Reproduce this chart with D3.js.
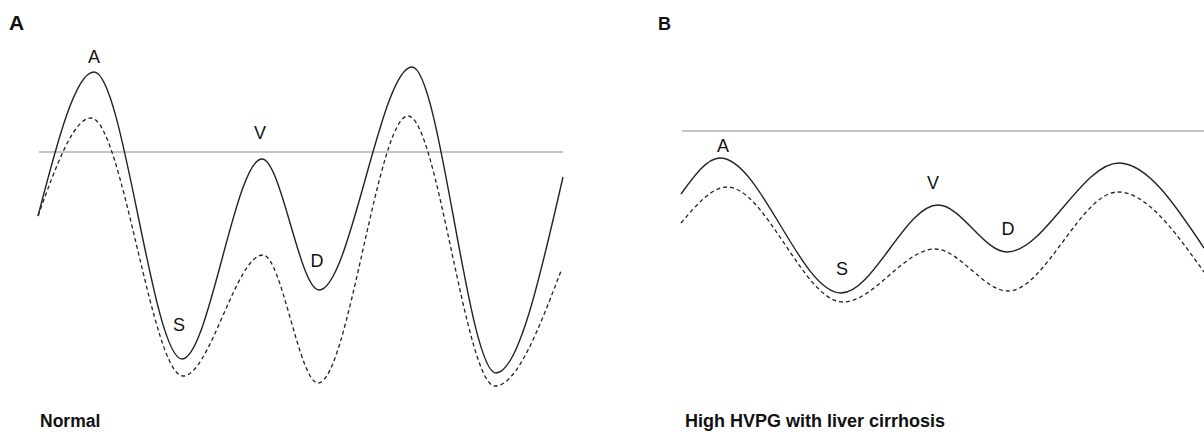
<!DOCTYPE html>
<html>
<head>
<meta charset="utf-8">
<script src="https://cdn.jsdelivr.net/npm/d3@7"></script>
<style>
  body { margin: 0; background: #fff; }
  text { font-family: "Liberation Sans", Arial, sans-serif; fill: #111; }
</style>
</head>
<body>
<div class="chart"></div>
<script>
// time in ms, pressure relative to the reference line (schematic units)
// each series: start, then the A / S / V / D / next A / next S turning points, then end
var normalSolid = [
  [0, -6.4], [112, 8.0], [288, -20.7], [448, -0.7], [562, -13.8],
  [748, 8.5], [916, -22.1], [1050, -2.5]
];
var normalDashed = [
  [0, -6.4], [106, 3.4], [290, -22.4], [450, -10.3], [560, -23.1],
  [740, 3.6], [914, -23.4], [1046, -11.9]
];
var cirrhosisSolid = [
  [0, -6.3], [78, -2.7], [320, -16.2], [514, -7.4], [652, -12.1],
  [876, -3.2], [1046, -11.7]
];
var cirrhosisDashed = [
  [0, -9.2], [92, -5.6], [324, -17.1], [508, -11.8], [654, -16.0],
  [874, -6.1], [1046, -14.1]
];

var waveNames = ["A", "S", "V", "D"];
var normalLabelAt = [[112, 9.5], [282, -17.3], [444, 1.9], [558, -10.9]];
var cirrhosisLabelAt = [[84, -1.5], [322, -13.8], [504, -5.2], [654, -9.8]];

var panelLetters = ["A", "B"];
var panelTitles = ["Normal", "High HVPG with liver cirrhosis"];

var fullWidth = 1204, fullHeight = 432;

var svg = d3.select(".chart")
  .append("svg")
  .attr("width", fullWidth)
  .attr("height", fullHeight);

var panels = [
  {
    solid: normalSolid, dashed: normalDashed, labels: normalLabelAt,
    x: d3.scaleLinear().domain([0, 1050]).range([38, 563]),
    y: d3.scaleLinear().domain([-25, 10]).range([402, 52]),
    lineEnd: 1050,
    letter: { x: 9, y: 30, size: 21 },
    title: { x: 40, y: 427, size: 17.5 }
  },
  {
    solid: cirrhosisSolid, dashed: cirrhosisDashed, labels: cirrhosisLabelAt,
    x: d3.scaleLinear().domain([0, 1046]).range([681, 1204]),
    y: d3.scaleLinear().domain([-25, 10]).range([381, 31]),
    lineEnd: 1046,
    letter: { x: 658, y: 30, size: 18 },
    title: { x: 685, y: 427, size: 18 }
  }
];

panels.forEach(function(p, i) {
  var g = svg.append("g");

  // reference line
  g.append("line")
    .attr("x1", p.x(0) + 1)
    .attr("x2", p.x(p.lineEnd))
    .attr("y1", p.y(0))
    .attr("y2", p.y(0))
    .attr("stroke", "#8a8a8a")
    .attr("stroke-width", 1.2);

  // monotone keeps each turning point as a flat extremum
  var line = d3.line()
    .x(d => p.x(d[0]))
    .y(d => p.y(d[1]))
    .curve(d3.curveMonotoneX);

  g.append("path")
    .datum(p.dashed)
    .attr("d", line)
    .attr("fill", "none")
    .attr("stroke", "#222")
    .attr("stroke-width", 1.3)
    .attr("stroke-dasharray", "4,3");

  g.append("path")
    .datum(p.solid)
    .attr("d", line)
    .attr("fill", "none")
    .attr("stroke", "#222")
    .attr("stroke-width", 1.4);

  g.selectAll("text.wave")
    .data(p.labels)
    .enter()
    .append("text")
    .attr("class", "wave")
    .attr("x", d => p.x(d[0]))
    .attr("y", d => p.y(d[1]))
    .attr("dy", "0.36em")
    .attr("text-anchor", "middle")
    .style("font-size", "18px")
    .text((d, j) => waveNames[j]);

  g.append("text")
    .attr("x", p.letter.x)
    .attr("y", p.letter.y)
    .style("font-size", p.letter.size + "px")
    .style("font-weight", "bold")
    .text(panelLetters[i]);

  g.append("text")
    .attr("x", p.title.x)
    .attr("y", p.title.y)
    .style("font-size", p.title.size + "px")
    .style("font-weight", "bold")
    .text(panelTitles[i]);
});
</script>
</body>
</html>
